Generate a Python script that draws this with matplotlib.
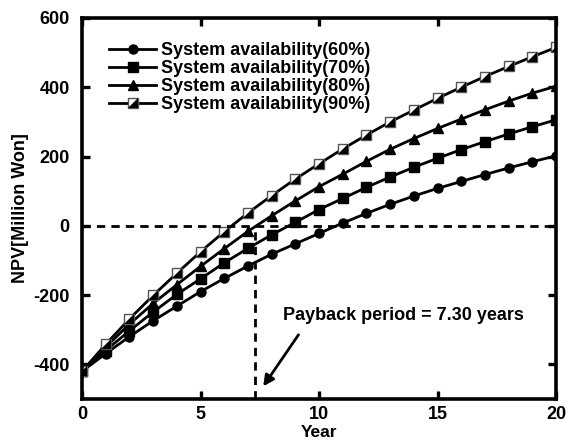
import numpy as np
import matplotlib
matplotlib.use('Agg')
import matplotlib.pyplot as plt
from matplotlib.path import Path
from matplotlib.legend_handler import HandlerTuple

# NPV curves (Million Won), years 0..20
years = list(range(21))
npv_60 = [-420, -369, -320, -274, -232, -190, -152, -116, -82, -52, -22,
          8, 36, 62, 86, 108, 128, 148, 167, 185, 202]
npv_70 = [-420, -360, -303, -249, -198, -153, -107, -65, -26, 10, 47,
          79, 111, 141, 169, 195, 220, 243, 265, 286, 306]
npv_80 = [-420, -350, -284, -224, -170, -117, -66, -16, 29, 72, 113,
          149, 186, 221, 252, 281, 308, 335, 360, 383, 403]
npv_90 = [-420, -342, -269, -201, -137, -75, -17, 37, 87, 135, 179,
          222, 262, 300, 334, 368, 400, 431, 460, 488, 515]
labels = ['System availability(60%)', 'System availability(70%)',
          'System availability(80%)', 'System availability(90%)']
payback = 7.30
x_ticks = [0, 5, 10, 15, 20]
y_ticks = [-400, -200, 0, 200, 400, 600]

plt.rcParams['font.family'] = ['Liberation Sans', 'DejaVu Sans']
plt.rcParams['font.weight'] = 'bold'
plt.rcParams['axes.unicode_minus'] = False
fs = 13

fig = plt.figure(figsize=(5.68, 4.43), dpi=100)
ax = fig.add_axes([0.1444, 0.0993, 0.8345, 0.8601])

lw = 2.0
ms = 6.5
l60, = ax.plot(years, npv_60, '-o', color='black', lw=lw, ms=ms)
l70, = ax.plot(years, npv_70, '-s', color='black', lw=lw, ms=ms)
l80, = ax.plot(years, npv_80, '-^', color='black', lw=lw, ms=ms)
l90, = ax.plot(years, npv_90, '-s', color='black', lw=lw, ms=ms,
               mfc='white', mec='#555555', mew=1.0)
# black half of the split square marker
half = Path([(-1, -1), (1, -1), (1, 1), (-1, -1)],
            [Path.MOVETO, Path.LINETO, Path.LINETO, Path.CLOSEPOLY])
h90, = ax.plot(years, npv_90, linestyle='none', marker=half, ms=ms,
               color='black', mew=0)

# payback guides
ax.plot([0, 20], [0, 0], '--', color='black', lw=2.0, dashes=(3, 2.2))
ax.plot([payback, payback], [-500, 0], '--', color='black', lw=2.0,
        dashes=(3, 2.2))

ax.text(8.48, -258, 'Payback period = %.2f years' % payback, fontsize=fs,
        fontweight='bold', va='center', ha='left')
ax.annotate('', xy=(7.58, -470), xytext=(9.2, -308),
            arrowprops=dict(arrowstyle='-|>', color='black', lw=2.0,
                            mutation_scale=16))

ax.set_xlim(0, 20)
ax.set_ylim(-500, 600)
ax.set_xticks(x_ticks)
ax.set_yticks(y_ticks)
ax.tick_params(direction='in', length=6, width=2.4, labelsize=fs,
               top=True, right=True)
ax.tick_params(axis='x', pad=5)
ax.tick_params(axis='y', pad=9)
for lab in ax.get_xticklabels() + ax.get_yticklabels():
    lab.set_fontweight('bold')
for sp in ax.spines.values():
    sp.set_linewidth(2.6)

ax.set_xlabel('Year', fontsize=12.5, fontweight='bold')
ax.xaxis.set_label_coords(0.5, -0.068)
ax.set_ylabel('NPV[Million Won]', fontsize=fs, fontweight='bold', labelpad=3)

ax.legend([l60, l70, l80, (l90, h90)], labels, loc='upper left',
          bbox_to_anchor=(0.057, 0.937), frameon=False,
          handlelength=2.6, handletextpad=0.3, labelspacing=0.06,
          borderaxespad=0, borderpad=0,
          handler_map={tuple: HandlerTuple(ndivide=1, pad=0)},
          prop={'weight': 'bold', 'size': fs})

fig.savefig('out.png', dpi=100)
